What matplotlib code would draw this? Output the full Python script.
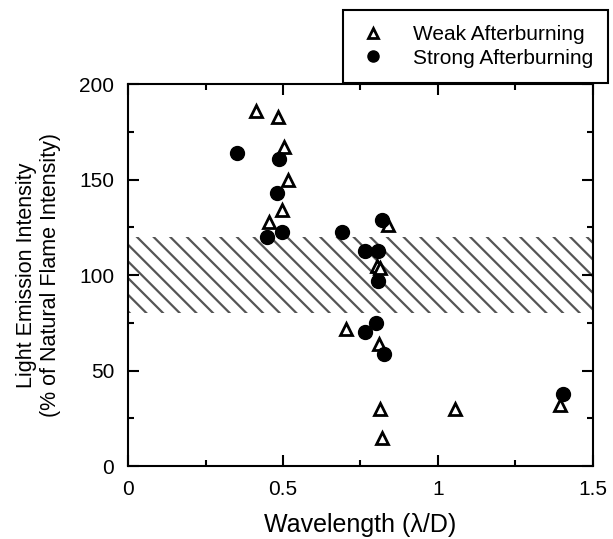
import matplotlib.pyplot as plt
from matplotlib.ticker import MultipleLocator

plt.rcParams['font.family'] = ['Liberation Sans', 'DejaVu Sans']
plt.rcParams['hatch.linewidth'] = 1.6
plt.rcParams['hatch.color'] = '#555555'

# weak afterburning (open triangles)
weak_x = [0.413, 0.484, 0.503, 0.516, 0.497, 0.455, 0.839, 0.803, 0.813, 0.703, 0.81, 0.813, 0.819, 1.055, 1.394]
weak_y = [186, 183, 167, 150, 134, 128, 126, 105, 104, 72, 64, 30, 15, 30, 32]

# strong afterburning (filled circles)
strong_x = [0.352, 0.487, 0.481, 0.448, 0.497, 0.819, 0.69, 0.765, 0.807, 0.807, 0.80, 0.765, 0.826, 1.403]
strong_y = [164, 161, 143, 120, 122.5, 129, 122.5, 112.6, 112.6, 97, 75, 70, 58.6, 37.7]

# natural flame band
band_lo, band_hi = 80, 120

fig = plt.figure(figsize=(6.13, 5.39), dpi=100)
ax = fig.add_axes([0.209, 0.135, 0.758, 0.709])

ax.fill_between([0, 1.5], band_lo, band_hi, facecolor='none', edgecolor='#555555',
                hatch='\\\\', linewidth=0, zorder=1)

ax.plot(weak_x, weak_y, linestyle='none', marker='^', markersize=9, markerfacecolor='white',
        markeredgecolor='black', markeredgewidth=2, label='Weak Afterburning', zorder=3)
ax.plot(strong_x, strong_y, linestyle='none', marker='o', markersize=10, color='black',
        label='Strong Afterburning', zorder=4)

ax.set_xlim(0, 1.5)
ax.set_ylim(0, 200)
ax.xaxis.set_major_locator(MultipleLocator(0.5))
ax.xaxis.set_minor_locator(MultipleLocator(0.25))
ax.yaxis.set_major_locator(MultipleLocator(50))
ax.yaxis.set_minor_locator(MultipleLocator(25))
ax.set_xticks([0, 0.5, 1, 1.5], ['0', '0.5', '1', '1.5'])
ax.tick_params(which='both', direction='in', top=True, right=True, labelsize=15, width=1.5)
ax.tick_params(axis='x', pad=10)
ax.tick_params(axis='y', pad=10)
ax.tick_params(which='major', length=8)
ax.tick_params(which='minor', length=4)
for s in ax.spines.values():
    s.set_linewidth(1.5)

ax.set_xlabel('Wavelength (λ/D)', fontsize=18, labelpad=10)
ax.set_ylabel('Light Emission Intensity\n(% of Natural Flame Intensity)', fontsize=15.5, labelpad=13)

leg = fig.legend(loc='upper left', bbox_to_anchor=(343 / 613, 1 - 10 / 539),
                 frameon=True, fancybox=False, edgecolor='black', framealpha=1,
                 fontsize=15, handletextpad=1.25, borderpad=0.72, labelspacing=0.22,
                 borderaxespad=0, markerscale=0.8, handlelength=1.4)
leg.get_frame().set_linewidth(1.5)

fig.savefig('out.png', dpi=100)
